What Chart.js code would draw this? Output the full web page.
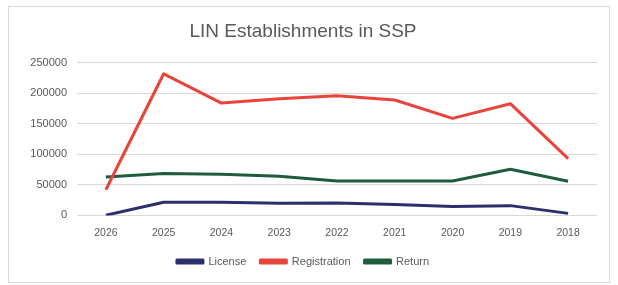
<!DOCTYPE html>
<html>
<head>
<meta charset="utf-8">
<script src="https://cdn.jsdelivr.net/npm/chart.js@4/dist/chart.umd.min.js"></script>
<style>
  body { margin: 0; background: #fff; }
  .box { position: absolute; left: 8px; top: 6px; width: 600px; height: 275px; border: 1px solid #d9d9d9; background: #fff; }
  canvas { display: block; }
</style>
</head>
<body>
<div class="box"><canvas id="LineChart" width="600" height="275"></canvas></div>
<script>
const years = ["2026", "2025", "2024", "2023", "2022", "2021", "2020", "2019", "2018"];
const license = [300, 21500, 21500, 20000, 20400, 17700, 14400, 16000, 3300];
const registration = [42000, 232000, 184000, 191000, 196000, 189000, 159000, 183000, 93000];
const returns = [63000, 68500, 67500, 64000, 56500, 56500, 56500, 75500, 56000];
const yTicks = [0, 50000, 100000, 150000, 200000, 250000];

const ctx = document.getElementById("LineChart").getContext("2d");
const gray = "#595959";

new Chart(ctx, {
  type: "line",
  data: {
    labels: years,
    datasets: [
      { label: "License", data: license, borderColor: "#2b2f6b", backgroundColor: "#2b2f6b" },
      { label: "Registration", data: registration, borderColor: "#e8443a", backgroundColor: "#e8443a" },
      { label: "Return", data: returns, borderColor: "#1f5c3e", backgroundColor: "#1f5c3e" },
    ],
  },
  options: {
    responsive: false,
    animation: false,
    elements: {
      line: { borderWidth: 3, tension: 0, borderJoinStyle: "round" },
      point: { radius: 0 },
    },
    layout: { padding: { left: 0, right: 12, top: 0, bottom: 5 } },
    plugins: {
      title: {
        display: true,
        text: "LIN Establishments in SSP",
        color: gray,
        font: { family: "Liberation Sans", size: 19, weight: "normal" },
        padding: { top: 13, bottom: 20 },
      },
      legend: {
        position: "bottom",
        labels: {
          color: gray,
          boxWidth: 26,
          boxHeight: 3,
          padding: 14,
          font: { family: "Liberation Sans", size: 11 },
        },
      },
      tooltip: { enabled: false },
    },
    scales: {
      x: {
        offset: true,
        grid: { display: false },
        border: { display: false },
        ticks: { color: gray, font: { family: "Liberation Sans", size: 10.5 }, padding: 3 },
      },
      y: {
        min: 0,
        max: 250000,
        afterBuildTicks: (axis) => { axis.ticks = yTicks.map((v) => ({ value: v })); },
        afterFit: (axis) => { axis.width = 68; },
        grid: { color: "#d9d9d9", drawTicks: false },
        border: { display: false },
        ticks: {
          color: gray,
          font: { family: "Liberation Sans", size: 11 },
          padding: 10,
          callback: (v) => String(v),
        },
      },
    },
  },
});
</script>
</body>
</html>
